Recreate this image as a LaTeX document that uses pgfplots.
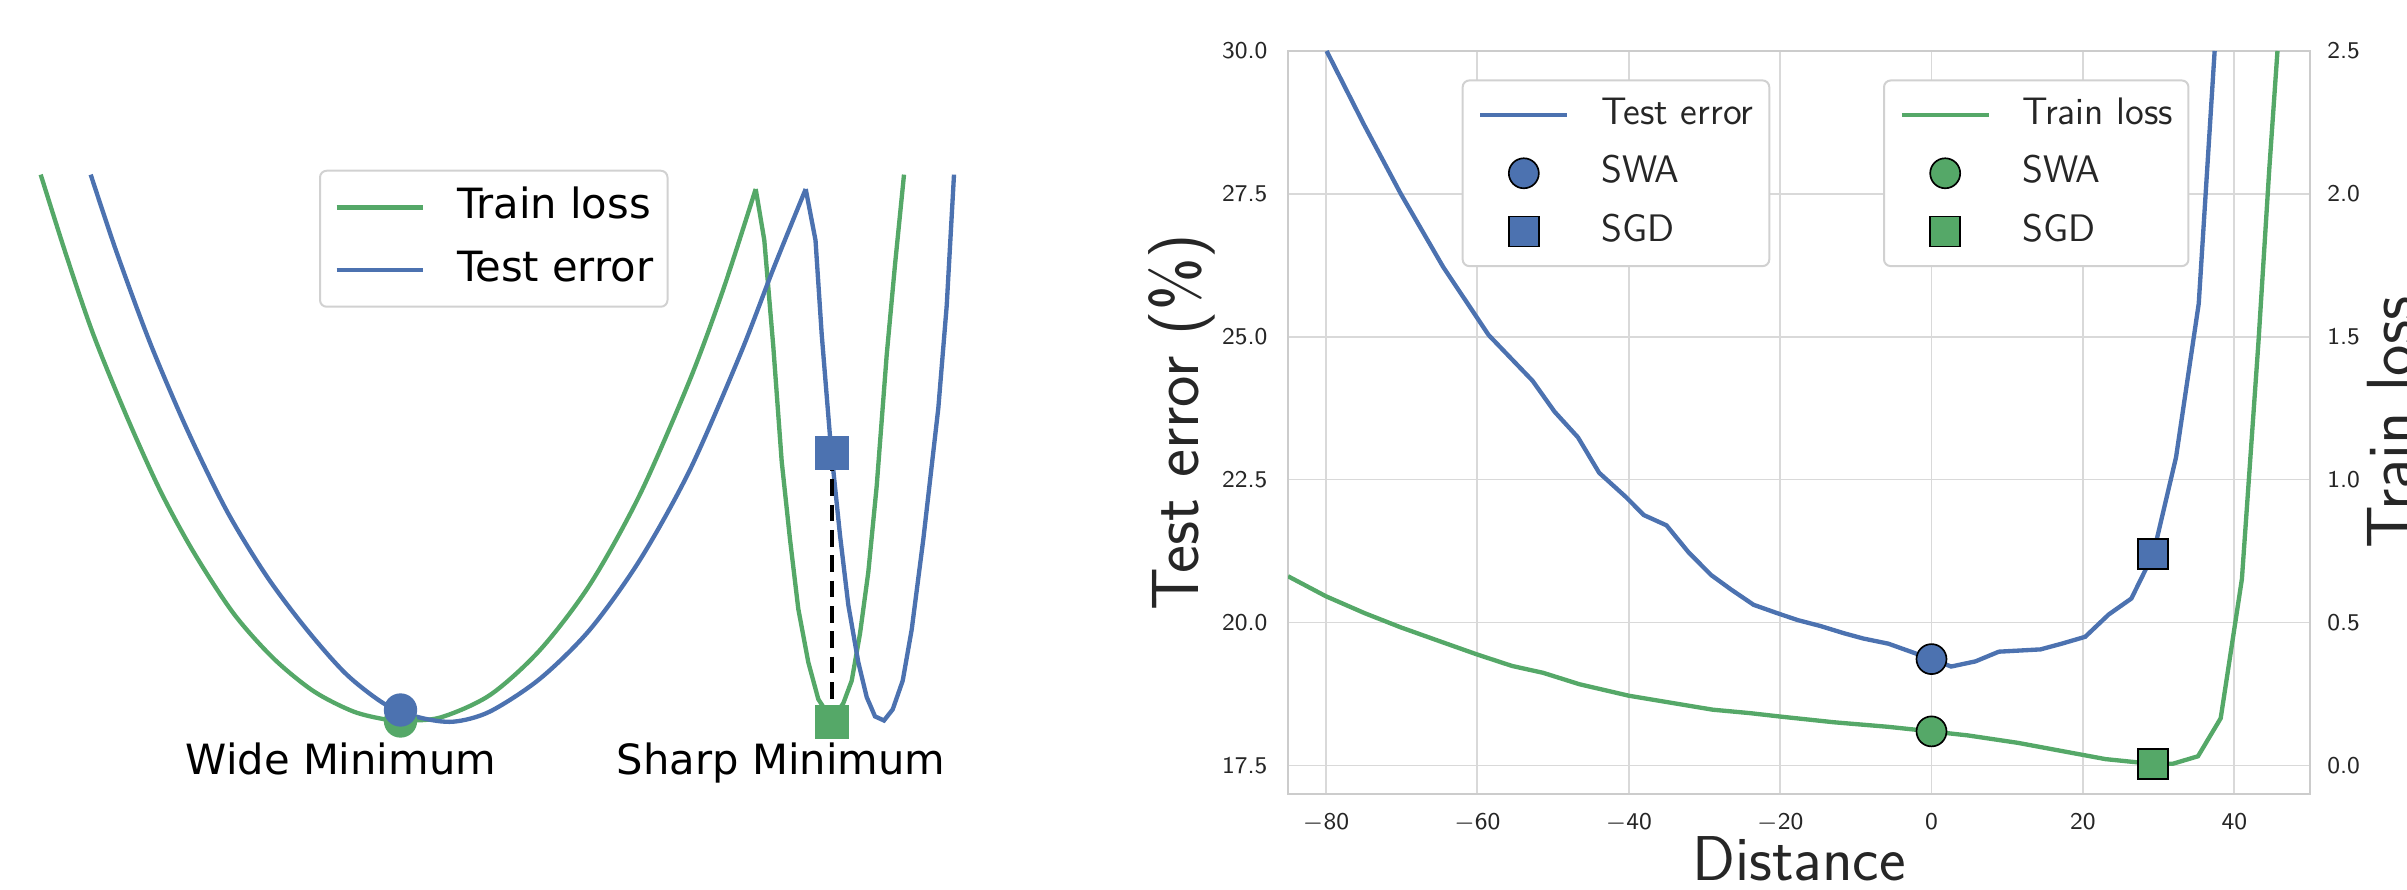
\documentclass[border=0pt]{standalone}
\usepackage{fontspec}
\usepackage{pgfplots}
\pgfplotsset{compat=1.18}
\newfontfamily\djv{DejaVu Sans}
\definecolor{sblue}{HTML}{4C72B0}
\definecolor{sgreen}{HTML}{55A868}
\definecolor{txt}{HTML}{262626}

\pgfplotsset{
  legline/.style={legend image code/.code={\draw[sharp corners,##1] (0pt,0pt) -- (26pt,0pt);}},
  legmark/.style={legend image code/.code={\path[draw=none,fill=none] (0pt,0pt) -- (26pt,0pt);
      \draw[sharp corners,##1] plot coordinates {(13pt,0pt)};}},
  rightpanel/.style={
    at={(386.4pt,28.8pt)}, anchor=south west, scale only axis,
    width=306.6pt, height=222.9pt,
    xmin=-85, xmax=50,
    major tick length=0pt,
    tick label style={font=\fontsize{7.2}{8.6}\selectfont\sffamily, text=txt, inner sep=0pt},
    label style={font=\fontsize{20}{24}\selectfont\sffamily, text=txt},
    legend cell align=left,
  },
  sealeg/.style={
    legend style={at={(axis description cs:#1,0.9617)}, anchor=north west,
      draw=black!18, line width=0.6pt, fill=white, rounded corners=2pt,
      font=\fontsize{11.5}{13.8}\selectfont\sffamily, text=txt,
      inner xsep=4.7pt, inner ysep=5.2pt, row sep=7.2pt,
      nodes={inner sep=0pt, text height=8pt, text depth=2.3pt},
      /tikz/every odd column/.append style={column sep=9.6pt}},
  },
}

\begin{document}
\begin{tikzpicture}
\path[use as bounding box] (0pt,0pt) rectangle (722.1pt,267pt);

% left: sketch of wide vs sharp minimum
\begin{axis}[
  at={(0pt,0pt)}, anchor=south west, scale only axis,
  width=300pt, height=267pt,
  xmin=0, xmax=1000, ymin=0, ymax=890,
  hide axis, clip=false, legline,
  legend cell align=left,
  legend style={at={(axis description cs:0.319,0.8093)}, anchor=north west,
    draw=black!18, line width=0.6pt, fill=white, rounded corners=2pt,
    font=\djv\fontsize{12.5}{15}\selectfont,
    inner xsep=4.3pt, inner ysep=5.1pt, row sep=7pt,
    nodes={inner sep=0pt, text height=9.2pt, text depth=2.6pt},
    /tikz/every odd column/.append style={column sep=9.5pt}},
]
% wide bowl (smooth) and sharp well of the train loss
\addplot[sgreen, line width=1.3pt, smooth] coordinates {
  (40.7,715.4) (66.7,633.4) (93.3,555.6) (126.7,473.6) (160,399.8) (193.3,338.4)
  (233.3,276.9) (273.3,231.8) (313.3,199) (353.3,178.5) (386.7,170.3) (402,169.5)
  (440,172.4) (490,195) (540,240) (590,305.6) (640,395.7) (690,510.5) (723.3,600.7)
  (755.7,701)
};
\addlegendentry{Train loss}
\addplot[forget plot, sgreen, line width=1.3pt] coordinates {
  (755.7,701) (764.3,649.8) (773.3,543.3) (781.7,428.5) (790,350.7) (798.3,281)
  (808.3,227.7) (818.3,190.8) (831.7,170) (843.3,186.7) (851.7,209.3) (860,256.4)
  (868.3,317.9) (876.7,404) (886.7,535.1) (895,625.2) (904,715.4)
};
% test error
\addplot[sblue, line width=1.3pt, smooth] coordinates {
  (90.7,715.4) (116.7,637.5) (150,547.4) (186.7,461.3) (226.7,379.3) (266.7,313.8)
  (306.7,260.5) (346.7,215.4) (386.7,184.7) (420,172.4) (453.3,168.3) (490,178.5)
  (540,211.3) (590,260.5) (640,330.2) (690,420.3) (740,535.1) (773.3,621.1)
  (805.7,701)
};
\addlegendentry{Test error}
\addplot[forget plot, sblue, line width=1.3pt] coordinates {
  (805.7,701) (815.5,649.8) (821.7,555.6) (830.7,445) (840,354.8) (848.3,285.1)
  (858.3,227.7) (866.7,192.9) (875,173.6) (884,169.5) (892.7,180.6) (902.7,209.3)
  (911.7,260.5) (923.3,350.7) (938.3,481.8) (946.7,584.3) (954,715.4)
};
\addplot[forget plot, only marks, mark=*, mark size=4.8pt, sgreen] coordinates {(400.5,169)};
\addplot[forget plot, only marks, mark=*, mark size=4.8pt, sblue] coordinates {(400.5,180)};
\addplot[forget plot, only marks, mark=square*, mark size=4.8pt, sblue] coordinates {(832,437)};
\addplot[forget plot, only marks, mark=square*, mark size=4.8pt, sgreen] coordinates {(832,168)};
\addplot[forget plot, black, line width=1.2pt, dash pattern=on 5pt off 2.6pt] coordinates {(400.5,179) (400.5,170)};
\addplot[forget plot, black, line width=1.2pt, dash pattern=on 5pt off 2.6pt] coordinates {(832,436) (832,170)};
\node[font=\djv\fontsize{12.5}{15}\selectfont, anchor=base] at (axis cs:341,115) {Wide Minimum};
\node[font=\djv\fontsize{12.5}{15}\selectfont, anchor=base] at (axis cs:781,115) {Sharp Minimum};
\end{axis}

% right: test error along the line between SGD and SWA
\begin{axis}[
  rightpanel, sealeg=0.1699,
  ymin=17, ymax=30,
  xtick={-80,-60,-40,-20,0,20,40},
  xticklabels={{$-$80},{$-$60},{$-$40},{$-$20},0,20,40},
  ytick={17.5,20,22.5,25,27.5,30},
  yticklabels={17.5,20.0,22.5,25.0,27.5,30.0},
  xtick pos=bottom, ytick pos=left,
  xticklabel shift=5.5pt, yticklabel shift=6pt,
  grid=major, major grid style={gray!30, line width=0.5pt},
  axis line style={gray!40, line width=0.7pt},
  xlabel={Distance}, ylabel={Test error (\%)},
  xlabel style={inner sep=0pt, yshift=-1.2pt, font=\fontsize{19}{22}\selectfont\sffamily},
  ylabel style={inner sep=2pt},
]
\addplot[sblue, line width=1.3pt, legline] coordinates {
  (-79.9,30.0) (-75,28.72) (-70.1,27.5) (-64.5,26.22) (-58.5,25.03) (-52.7,24.23)
  (-49.8,23.69) (-46.7,23.24) (-43.9,22.62) (-40.4,22.2) (-38,21.88) (-35,21.7)
  (-32.1,21.23) (-29.1,20.83) (-26.5,20.58) (-23.5,20.31) (-20.3,20.16) (-17.6,20.04)
  (-14.7,19.94) (-11.5,19.81) (-9,19.72) (-5.7,19.63) (0,19.36) (2.6,19.23)
  (5.8,19.32) (8.9,19.49) (14.4,19.53) (17.2,19.63) (20.3,19.75) (23.4,20.14)
  (26.4,20.42) (29.3,21.2) (32.3,22.89) (35.3,25.58) (37.4,30.0)
};
\addlegendentry{Test error}
\addplot[only marks, mark=*, mark size=4.5pt, legmark,
  mark options={fill=sblue, draw=black, line width=0.5pt}] coordinates {(0,19.36)};
\addlegendentry{SWA}
\addplot[only marks, mark=square*, mark size=4.5pt, legmark,
  mark options={fill=sblue, draw=black, line width=0.5pt}] coordinates {(29.3,21.2)};
\addlegendentry{SGD}
\end{axis}

\begin{axis}[
  rightpanel, sealeg=0.5822,
  ymin=-0.1, ymax=2.5,
  hide x axis, axis y line*=right, axis line style={draw=none},
  ytick={0,0.5,1,1.5,2,2.5},
  yticklabels={0.0,0.5,1.0,1.5,2.0,2.5},
  yticklabel shift=5pt,
  ylabel={Train loss},
  ylabel style={inner sep=2pt},
]
\addplot[sgreen, line width=1.3pt, legline] coordinates {
  (-85,0.662) (-80,0.592) (-74.9,0.533) (-70.1,0.483) (-64.8,0.433) (-60,0.388)
  (-55.4,0.348) (-51.3,0.324) (-46.5,0.284) (-40,0.244) (-34.8,0.221) (-28.9,0.195)
  (-24,0.183) (-20,0.171) (-12.9,0.151) (-5.7,0.135) (0,0.119) (4.8,0.105)
  (11.4,0.079) (18.1,0.046) (23,0.022) (29.3,0.005) (31.9,0.006) (35.2,0.032)
  (38.2,0.165) (41,0.652) (43.2,1.486) (44.6,2.08) (45.7,2.5)
};
\addlegendentry{Train loss}
\addplot[only marks, mark=*, mark size=4.5pt, legmark,
  mark options={fill=sgreen, draw=black, line width=0.5pt}] coordinates {(0,0.119)};
\addlegendentry{SWA}
\addplot[only marks, mark=square*, mark size=4.5pt, legmark,
  mark options={fill=sgreen, draw=black, line width=0.5pt}] coordinates {(29.3,0.005)};
\addlegendentry{SGD}
\end{axis}
\end{tikzpicture}
\end{document}
